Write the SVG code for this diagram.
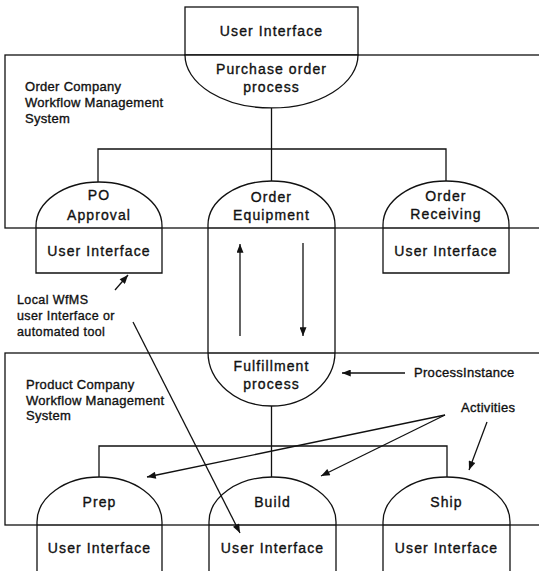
<svg xmlns="http://www.w3.org/2000/svg" width="539" height="571" viewBox="0 0 539 571">
  <style>
    .ln { fill: none; stroke: #111; stroke-width: 1.3; }
    .shape { fill: #fff; stroke: #111; stroke-width: 1.3; }
    text { font-family: "Liberation Sans", Arial, sans-serif; fill: #111; stroke: #111; stroke-width: 0.35; }
    .nt { font-size: 14px; letter-spacing: 1.1px; text-anchor: middle; }
    .lb { font-size: 13px; letter-spacing: 0.3px; }
    .sm { font-size: 12.5px; letter-spacing: 0.4px; }
  </style>
  <defs>
    <marker id="arr" viewBox="0 0 10 8" refX="10" refY="4" markerWidth="10" markerHeight="7" markerUnits="userSpaceOnUse" orient="auto">
      <path d="M0,0 L10,4 L0,8 Z" fill="#111"/>
    </marker>
  </defs>

  <rect width="539" height="571" fill="#fff"/>

  <!-- workflow management system frames -->
  <g id="order-company-wfms">
    <rect class="ln" x="5" y="55" width="545" height="173"/>
    <text class="lb" x="25" y="90.5">Order Company</text>
    <text class="lb" x="25" y="106.5">Workflow Management</text>
    <text class="lb" x="25" y="122.5">System</text>
  </g>
  <g id="product-company-wfms">
    <rect class="ln" x="5" y="353" width="545" height="172"/>
    <text class="lb" x="26" y="389">Product Company</text>
    <text class="lb" x="26" y="404.5">Workflow Management</text>
    <text class="lb" x="26" y="420">System</text>
  </g>

  <!-- purchase order process with its user interface -->
  <g id="purchase-order">
    <rect class="shape" x="185" y="7" width="173" height="48"/>
    <path class="shape" d="M185,55 A86.5,53 0 0 0 358,55 Z"/>
    <text class="nt" x="271.5" y="36">User Interface</text>
    <text class="nt" x="271.5" y="74">Purchase order</text>
    <text class="nt" x="271.5" y="92">process</text>
  </g>

  <g id="po-approval">
    <path class="shape" d="M36,273 V226 A63,44 0 0 1 162,226 V273 Z"/>
    <line class="ln" x1="36" y1="228" x2="162" y2="228"/>
    <text class="nt" x="99" y="200">PO</text>
    <text class="nt" x="99" y="220">Approval</text>
    <text class="nt" x="99" y="256">User Interface</text>
  </g>

  <!-- order equipment activity, continued as the fulfillment process instance -->
  <g id="order-equipment">
    <path class="shape" d="M208,352 V225 A63.5,44 0 0 1 335,225 V352 A63.5,54 0 0 1 208,352 Z"/>
    <line class="ln" x1="208" y1="228" x2="335" y2="228"/>
    <line class="ln" x1="208" y1="353" x2="335" y2="353"/>
    <text class="nt" x="271.5" y="202">Order</text>
    <text class="nt" x="271.5" y="220">Equipment</text>
    <text class="nt" x="271.5" y="371">Fulfillment</text>
    <text class="nt" x="271.5" y="389">process</text>
  </g>

  <g id="order-receiving">
    <path class="shape" d="M383,273 V225 A63,44 0 0 1 509,225 V273 Z"/>
    <line class="ln" x1="383" y1="228" x2="509" y2="228"/>
    <text class="nt" x="446" y="201">Order</text>
    <text class="nt" x="446" y="219">Receiving</text>
    <text class="nt" x="446" y="255.5">User Interface</text>
  </g>

  <g id="prep">
    <path class="shape" d="M37,575 V522 A62.5,45 0 0 1 162,522 V575"/>
    <line class="ln" x1="37" y1="525" x2="162" y2="525"/>
    <text class="nt" x="99.5" y="507">Prep</text>
    <text class="nt" x="99.5" y="553">User Interface</text>
  </g>

  <g id="build">
    <path class="shape" d="M209,575 V522 A63.5,45 0 0 1 336,522 V575"/>
    <line class="ln" x1="209" y1="525" x2="336" y2="525"/>
    <text class="nt" x="272.5" y="507">Build</text>
    <text class="nt" x="272.5" y="553">User Interface</text>
  </g>

  <g id="ship">
    <path class="shape" d="M383,575 V522 A63.5,45 0 0 1 510,522 V575"/>
    <line class="ln" x1="383" y1="525" x2="510" y2="525"/>
    <text class="nt" x="446.5" y="507">Ship</text>
    <text class="nt" x="446.5" y="553">User Interface</text>
  </g>

  <!-- annotation labels -->
  <g id="annotations">
    <text class="sm" x="17" y="304">Local WfMS</text>
    <text class="sm" x="17" y="320">user Interface or</text>
    <text class="sm" x="17" y="336">automated tool</text>
    <text class="lb" x="414" y="377" letter-spacing="0.5">ProcessInstance</text>
    <text class="lb" x="461" y="411.5" letter-spacing="0.4">Activities</text>
  </g>

  <!-- tree connectors and arrows -->
  <g id="connectors">
    <path class="ln" d="M271.5,108 V181 M98,182 V149 H446 V181"/>
    <path class="ln" d="M271.5,406 V477 M99,477 V446 H447 V477"/>
    <line class="ln" x1="240" y1="336" x2="240" y2="244" marker-end="url(#arr)"/>
    <line class="ln" x1="303" y1="243" x2="303" y2="336" marker-end="url(#arr)"/>
    <line class="ln" x1="115" y1="290" x2="128" y2="275" marker-end="url(#arr)"/>
    <line class="ln" x1="133" y1="322" x2="240" y2="533" marker-end="url(#arr)"/>
    <line class="ln" x1="405" y1="373" x2="342" y2="373" marker-end="url(#arr)"/>
    <line class="ln" x1="445" y1="415" x2="147" y2="477" marker-end="url(#arr)"/>
    <line class="ln" x1="445" y1="415" x2="321" y2="476" marker-end="url(#arr)"/>
    <line class="ln" x1="487" y1="422" x2="469" y2="470" marker-end="url(#arr)"/>
  </g>
</svg>
